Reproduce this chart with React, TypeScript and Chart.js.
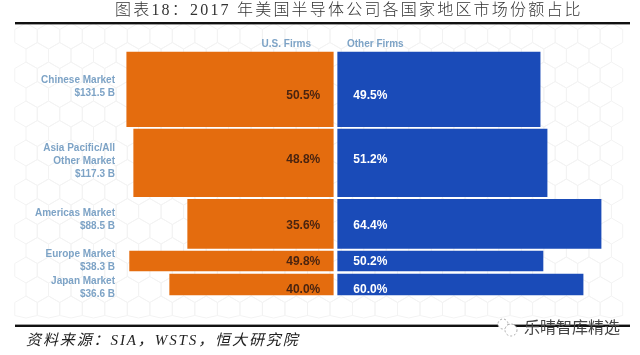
import React, { useEffect, useRef } from "react";
import { Chart, registerables } from "chart.js";

Chart.register(...registerables);

const marketNames = [["Chinese Market"], ["Asia Pacific/All", "Other Market"], ["Americas Market"], ["Europe Market"], ["Japan Market"]];
const marketSizes = ["$131.5 B", "$117.3 B", "$88.5 B", "$38.3 B", "$36.6 B"];
const usShare = [50.5, 48.8, 35.6, 49.8, 40.0];
const otherShare = [49.5, 51.2, 64.4, 50.2, 60.0];
const seriesNames = ["U.S. Firms", "Other Firms"];

const title = "图表18：2017 年美国半导体公司各国家地区市场份额占比";
const source = "资料来源：SIA，WSTS，恒大研究院";
const watermark = "乐晴智库精选";

// layout of the bands, in pixels of the 355px tall canvas
const bandTop = [52, 129, 199.3, 251, 274];
const bandBottom = [126.7, 196.7, 248.3, 271, 295];
const valueLabelOffset = [6, -3, 2, 1, 5];
const nameLabelOffset = [-3, -2, -4, 0, 3];
const ORANGE = "#E46C0E";
const BLUE = "#1A4BB8";
const LABEL_BLUE = "#7DA3C6";
const CJK = '"Noto Sans CJK SC", serif';

const hexBackground = {
  id: "hexBackground",
  beforeDraw(chart: any) {
    const c = chart.ctx;
    c.save();
    c.strokeStyle = "#F3F3F3";
    c.lineWidth = 1;
    const r = 13;
    const w = r * Math.sqrt(3);
    for (let row = 0; row < 22; row++) {
      const y = 36 + row * r * 1.5;
      if (y > 316) break;
      for (let col = 0; col < 30; col++) {
        const x = 26 + col * w + (row % 2 ? w / 2 : 0);
        if (x > 615) break;
        c.beginPath();
        for (let k = 0; k < 6; k++) {
          const a = Math.PI / 6 + (k * Math.PI) / 3;
          const px = x + r * Math.cos(a);
          const py = Math.min(318, y + r * Math.sin(a));
          if (k === 0) c.moveTo(px, py);
          else c.lineTo(px, py);
        }
        c.closePath();
        c.stroke();
      }
    }
    c.restore();
  },
};

const annotations = {
  id: "annotations",
  afterDraw(chart: any) {
    const c = chart.ctx;
    c.save();
    // rules
    c.fillStyle = "#111";
    c.fillRect(15, 22, 615, 2.4);
    c.fillRect(15, 324.6, 615, 2.4);

    // title
    c.textBaseline = "middle";
    c.textAlign = "left";
    c.fillStyle = "#333";
    c.font = `300 16px "Liberation Serif", ${CJK}`;
    (c as any).letterSpacing = "2.2px";
    c.fillText(title, 115, 10.5);
    (c as any).letterSpacing = "0px";

    // source
    c.font = `italic 15px "Liberation Serif", ${CJK}`;
    (c as any).letterSpacing = "1.9px";
    c.fillStyle = "#222";
    c.fillText(source, 26, 341);
    (c as any).letterSpacing = "0px";

    // series headings
    const xs = chart.scales.x;
    c.font = 'bold 10px "Liberation Sans"';
    c.fillStyle = LABEL_BLUE;
    c.textAlign = "right";
    c.fillText(seriesNames[0], 311, 44);
    c.textAlign = "left";
    c.fillText(seriesNames[1], 347, 44);

    // value labels
    c.font = 'bold 12px "Liberation Sans"';
    usShare.forEach((v, i) => {
      const y = (bandTop[i] + bandBottom[i]) / 2 + valueLabelOffset[i];
      c.textAlign = "right";
      c.fillStyle = "#4A2410";
      c.fillText(v.toFixed(1) + "%", xs.getPixelForValue(0) - 13, y);
      c.textAlign = "left";
      c.fillStyle = "#fff";
      c.fillText(otherShare[i].toFixed(1) + "%", xs.getPixelForValue(0) + 20, y);
    });

    // watermark
    c.fillStyle = "#444";
    c.font = `16px ${CJK}`;
    c.textAlign = "left";
    c.fillText(watermark, 524, 327);
    c.strokeStyle = "#aaa";
    c.lineWidth = 1;
    c.fillStyle = "#fff";
    c.setLineDash([2, 2]);
    c.beginPath();
    c.arc(503, 324, 5, 0, Math.PI * 2);
    c.fill();
    c.stroke();
    c.beginPath();
    c.arc(511, 330, 6, 0, Math.PI * 2);
    c.fill();
    c.stroke();
    c.setLineDash([]);
    c.restore();
  },
};

export default function App() {
  const ref = useRef<HTMLCanvasElement>(null);
  useEffect(() => {
    document.body.style.margin = "0";
    const centres = bandTop.map((t, i) => (t + bandBottom[i]) / 2);
    const thick = bandTop.map((t, i) => bandBottom[i] - t);
    const nameTicks = centres.map((c, i) => c + nameLabelOffset[i]);
    const datasets: any[] = [];
    marketNames.forEach((_, i) => {
      datasets.push({
        label: seriesNames[0],
        data: [{ x: [-usShare[i], 0], y: centres[i] }],
        backgroundColor: ORANGE,
        barThickness: thick[i],
        grouped: false,
      });
      datasets.push({
        label: seriesNames[1],
        data: [{ x: [1.08, 1.08 + otherShare[i]], y: centres[i] }],
        backgroundColor: BLUE,
        barThickness: thick[i],
        grouped: false,
      });
    });
    const chart = new Chart(ref.current!, {
      type: "bar",
      plugins: [hexBackground, annotations],
      data: { datasets },
      options: {
        animation: false,
        responsive: false,
        indexAxis: "y",
        layout: { padding: 0 },
        plugins: { legend: { display: false }, tooltip: { enabled: false }, title: { display: false } },
        scales: {
          x: { type: "linear", min: -52.64, max: 75, display: false },
          y: {
            type: "linear",
            reverse: true,
            offset: false,
            min: 0,
            max: 355,
            position: "left",
            grid: { display: false, drawTicks: false, offset: false },
            border: { display: false },
            afterBuildTicks(axis: any) {
              axis.ticks = nameTicks.map((value) => ({ value }));
            },
            afterFit(axis: any) {
              axis.width = 118;
              axis.paddingTop = 0;
              axis.paddingBottom = 0;
            },
            ticks: {
              autoSkip: false,
              padding: 3,
              color: LABEL_BLUE,
              font: { family: '"Liberation Sans"', weight: "bold", size: 10, lineHeight: "13px" },
              callback(value: number) {
                const i = nameTicks.indexOf(value);
                return i < 0 ? "" : [...marketNames[i], marketSizes[i]];
              },
            },
          },
        },
      } as any,
    });
    return () => chart.destroy();
  }, []);
  return <canvas ref={ref} width={640} height={355} style={{ display: "block", filter: "blur(0.35px)" }} />;
}
